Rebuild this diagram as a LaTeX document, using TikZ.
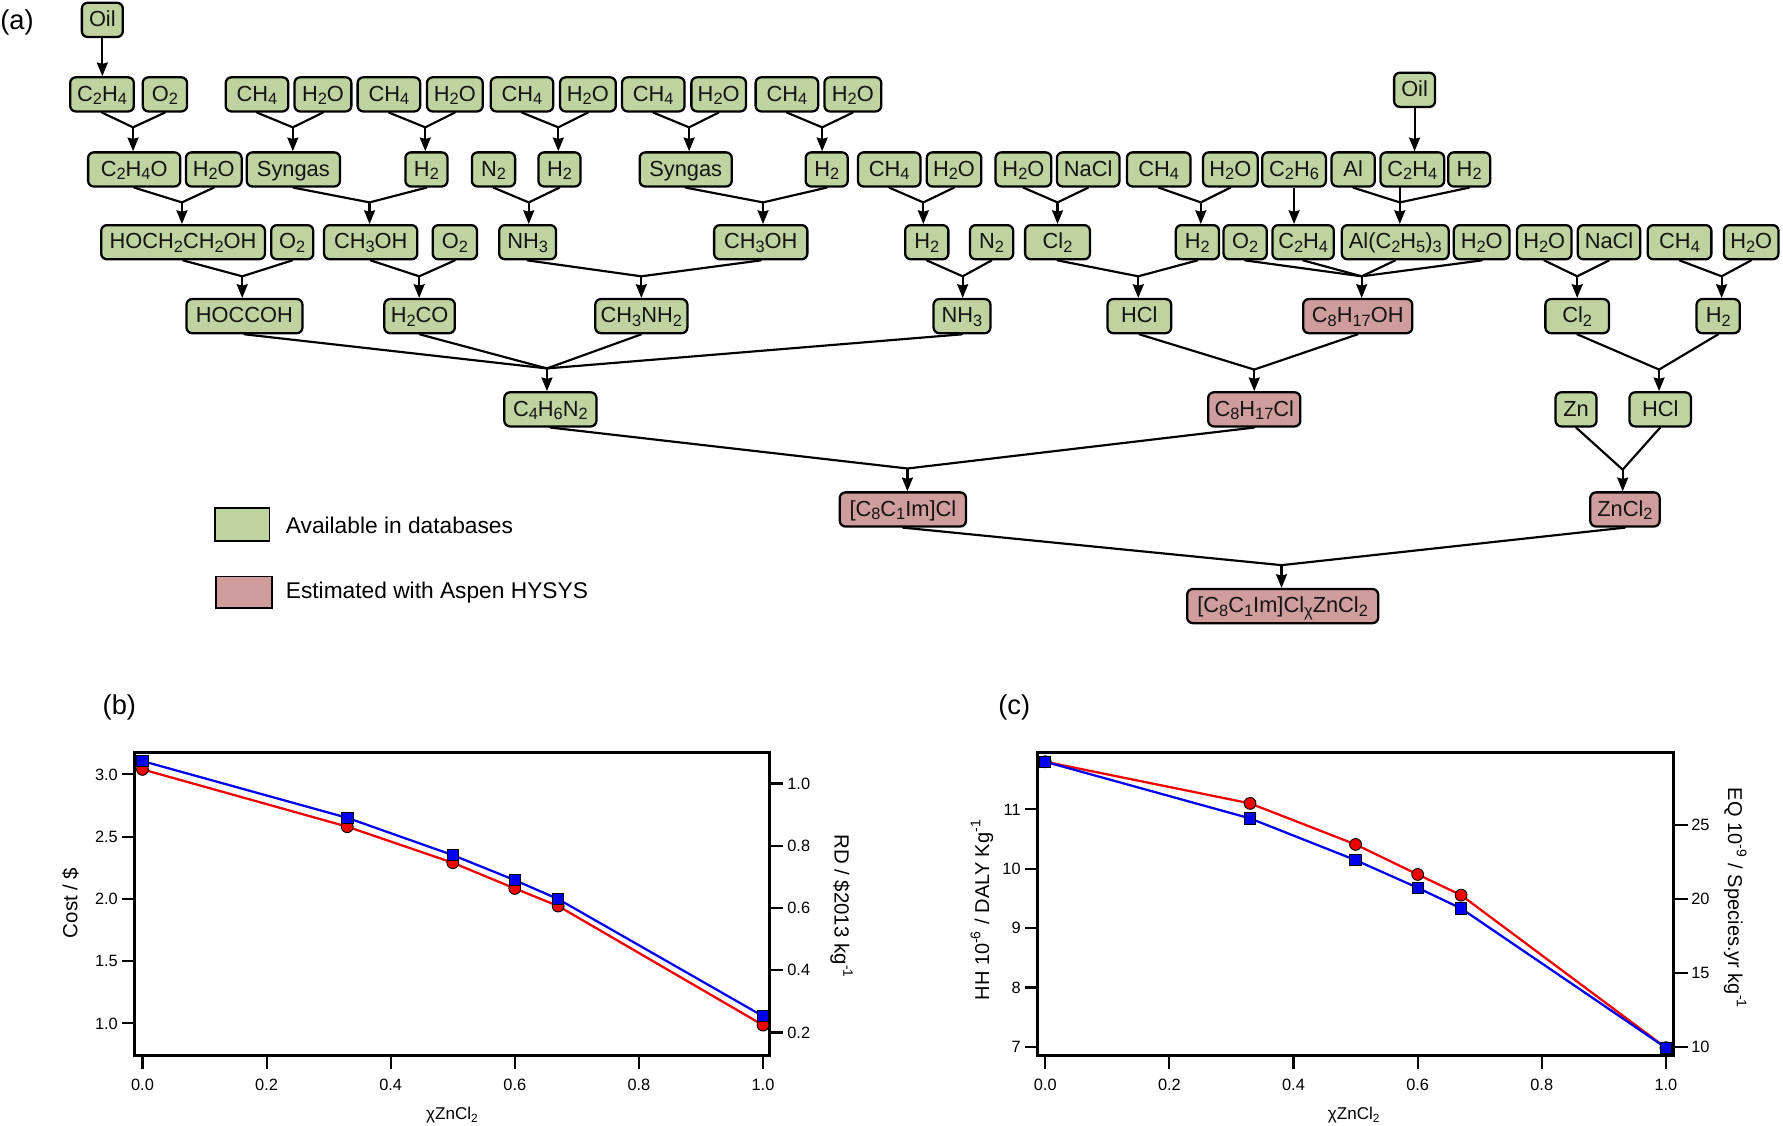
\documentclass[tikz,border=0pt]{standalone}
\usepackage{fontspec}
\setmainfont{Liberation Sans}
\usetikzlibrary{arrows.meta}
\definecolor{gfill}{HTML}{BED3A0}
\definecolor{pfill}{HTML}{CF9D9D}
\definecolor{dred}{HTML}{F00000}
\definecolor{dblue}{HTML}{0000F0}
\newcommand\sbs[1]{\raisebox{-0.32ex}{\fontsize{7.2}{8}\selectfont #1}}
\newcommand\sps[1]{\textsuperscript{#1}}
\begin{document}
\begin{tikzpicture}[x=0.5pt,y=-0.5pt,
  bx/.style={draw=black, line width=1pt, rounded corners=2.5pt, minimum height=15pt, inner sep=0pt,
    text height=6.9pt, text depth=1pt, font=\fontsize{9.6}{11}\selectfont, text=black!92},
  gb/.style={bx, fill=gfill},
  pb/.style={bx, fill=pfill},
  ln/.style={line width=0.95pt, line cap=round},
  ar/.style={line width=0.95pt, -{Stealth[length=6pt,width=4.8pt,inset=0.6pt]}},
  tk/.style={line width=0.9pt},
  tl/.style={font=\fontsize{7.2}{8}\selectfont, inner sep=0pt},
  axl/.style={font=\fontsize{9}{10}\selectfont, inner sep=0pt},
  pl/.style={font=\fontsize{12}{14}\selectfont, inner sep=0pt},
  frm/.style={line width=1.2pt},
]
\useasboundingbox (0,0) rectangle (1568,990);

% ---------- panel (a) ----------
\node[pl] (la) at (15,20) {(a)};

% row 0
\node[gb, minimum width=18pt] (oilA) at (90,17.5) {Oil};
% row 1
\node[gb, minimum width=28pt] (c2h4a) at (89.7,83) {C\sbs2H\sbs4};
\node[gb, minimum width=19.5pt] (o2a) at (145,83) {O\sbs2};
\node[gb, minimum width=27.5pt] (ch4a) at (226,83) {CH\sbs4};
\node[gb, minimum width=25pt] (h2oa) at (284,83) {H\sbs2O};
\node[gb, minimum width=27.5pt] (ch4b) at (342,83) {CH\sbs4};
\node[gb, minimum width=24.5pt] (h2ob) at (400,83) {H\sbs2O};
\node[gb, minimum width=27.5pt] (ch4c) at (459,83) {CH\sbs4};
\node[gb, minimum width=24.5pt] (h2oc) at (517,83) {H\sbs2O};
\node[gb, minimum width=27.5pt] (ch4d) at (574.5,83) {CH\sbs4};
\node[gb, minimum width=24pt] (h2od) at (632,83) {H\sbs2O};
\node[gb, minimum width=27.5pt] (ch4e) at (692,83) {CH\sbs4};
\node[gb, minimum width=25pt] (h2oe) at (750,83) {H\sbs2O};
\node[gb, minimum width=18pt] (oilB) at (1244,79) {Oil};
% row 2
\node[gb, minimum width=40.5pt] (c2h4o) at (118,149) {C\sbs2H\sbs4O};
\node[gb, minimum width=24.5pt] (h2o2a) at (188,149) {H\sbs2O};
\node[gb, minimum width=41pt] (syn1) at (258,149) {Syngas};
\node[gb, minimum width=18.5pt] (h2a) at (375,149) {H\sbs2};
\node[gb, minimum width=19pt] (n2a) at (434,149) {N\sbs2};
\node[gb, minimum width=18.5pt] (h2b) at (492,149) {H\sbs2};
\node[gb, minimum width=40.5pt] (syn2) at (603,149) {Syngas};
\node[gb, minimum width=18.5pt] (h2c) at (727,149) {H\sbs2};
\node[gb, minimum width=27.5pt] (ch4f) at (782,149) {CH\sbs4};
\node[gb, minimum width=24pt] (h2o2b) at (839,149) {H\sbs2O};
\node[gb, minimum width=24.5pt] (h2o2c) at (900,149) {H\sbs2O};
\node[gb, minimum width=27.5pt] (nacla) at (957,149) {NaCl};
\node[gb, minimum width=28pt] (ch4g) at (1019,149) {CH\sbs4};
\node[gb, minimum width=24pt] (h2o2d) at (1082,149) {H\sbs2O};
\node[gb, minimum width=28pt] (c2h6) at (1138,149) {C\sbs2H\sbs6};
\node[gb, minimum width=19pt] (al) at (1190,149) {Al};
\node[gb, minimum width=28pt] (c2h4b) at (1242,149) {C\sbs2H\sbs4};
\node[gb, minimum width=18.5pt] (h2d) at (1292,149) {H\sbs2};
% row 3
\node[gb, minimum width=72pt] (hoch) at (161,213) {HOCH\sbs2CH\sbs2OH};
\node[gb, minimum width=18.5pt] (o2b) at (257,213) {O\sbs2};
\node[gb, minimum width=41pt] (meoh1) at (326,213) {CH\sbs3OH};
\node[gb, minimum width=19.5pt] (o2c) at (400,213) {O\sbs2};
\node[gb, minimum width=25pt] (nh3a) at (464,213) {NH\sbs3};
\node[gb, minimum width=41pt] (meoh2) at (669,213) {CH\sbs3OH};
\node[gb, minimum width=19pt] (h2e) at (815,213) {H\sbs2};
\node[gb, minimum width=19pt] (n2b) at (872,213) {N\sbs2};
\node[gb, minimum width=28.5pt] (cl2a) at (930,213) {Cl\sbs2};
\node[gb, minimum width=19pt] (h2f) at (1053,213) {H\sbs2};
\node[gb, minimum width=19pt] (o2d) at (1095,213) {O\sbs2};
\node[gb, minimum width=27pt] (c2h4c) at (1146,213) {C\sbs2H\sbs4};
\node[gb, minimum width=47pt] (alet) at (1227,213) {Al(C\sbs2H\sbs5)\sbs3};
\node[gb, minimum width=24.5pt] (h2o3a) at (1303,213) {H\sbs2O};
\node[gb, minimum width=24pt] (h2o3b) at (1358,213) {H\sbs2O};
\node[gb, minimum width=27.5pt] (naclb) at (1415,213) {NaCl};
\node[gb, minimum width=28pt] (ch4h) at (1477,213) {CH\sbs4};
\node[gb, minimum width=24pt] (h2o3c) at (1540,213) {H\sbs2O};
% row 4
\node[gb, minimum width=51pt] (hoccoh) at (215,278) {HOCCOH};
\node[gb, minimum width=31pt] (h2co) at (369,278) {H\sbs2CO};
\node[gb, minimum width=40.5pt] (mna) at (564,278) {CH\sbs3NH\sbs2};
\node[gb, minimum width=25pt] (nh3b) at (846,278) {NH\sbs3};
\node[gb, minimum width=28pt] (hcla) at (1002,278) {HCl};
\node[pb, minimum width=48pt] (octoh) at (1194,278) {C\sbs8H\sbs{17}OH};
\node[gb, minimum width=28pt] (cl2b) at (1387,278) {Cl\sbs2};
\node[gb, minimum width=19pt] (h2g) at (1511,278) {H\sbs2};
% row 5
\node[gb, minimum width=40.5pt] (im) at (484,360) {C\sbs4H\sbs6N\sbs2};
\node[pb, minimum width=40.5pt] (octcl) at (1103,360) {C\sbs8H\sbs{17}Cl};
\node[gb, minimum width=18pt] (zn) at (1386,360) {Zn};
\node[gb, minimum width=27pt] (hclb) at (1460,360) {HCl};
% row 6
\node[pb, minimum width=55.5pt] (il) at (794,448) {[C\sbs8C\sbs1Im]Cl};
\node[pb, minimum width=30.5pt] (zncl) at (1429,448) {ZnCl\sbs2};
% row 7
\node[pb, minimum width=84pt] (fin) at (1128,533) {[C\sbs8C\sbs1Im]Cl\sbs{χ}ZnCl\sbs2};

% legend
\node[draw=black, line width=0.8pt, fill=gfill, minimum width=24pt, minimum height=14.5pt, inner sep=0pt] (lg) at (213,461.5) {};
\node[anchor=west, font=\fontsize{10}{12}\selectfont, inner sep=0pt] (lgt) at (251,462) {Available in databases};
\node[draw=black, line width=0.8pt, fill=pfill, minimum width=24.5pt, minimum height=14pt, inner sep=0pt] (lp) at (214.5,521) {};
\node[anchor=west, font=\fontsize{10}{12}\selectfont, inner sep=0pt] (lpt) at (251,521) {Estimated with Aspen HYSYS};

% junctions
\coordinate (j1) at (117,112);
\coordinate (j2) at (257.5,112);
\coordinate (j3) at (374,112);
\coordinate (j4) at (491,112);
\coordinate (j5) at (606,112);
\coordinate (j6) at (723,112);
\coordinate (k1) at (160,178);
\coordinate (k2) at (325,178);
\coordinate (k3) at (465,178);
\coordinate (k4) at (671,178);
\coordinate (k5) at (812,178);
\coordinate (k6) at (930,178);
\coordinate (k7) at (1056,178);
\coordinate (k8) at (1231,178);
\coordinate (m1) at (213,243);
\coordinate (m2) at (368.6,243);
\coordinate (m3) at (564,243);
\coordinate (m4) at (846.6,243);
\coordinate (m5) at (1001,243);
\coordinate (m6) at (1197.5,243);
\coordinate (m7) at (1387,243);
\coordinate (m8) at (1514,243);
\coordinate (n1) at (481,324);
\coordinate (n2) at (1103,325);
\coordinate (n3) at (1459,325);
\coordinate (p1) at (798,412);
\coordinate (p2) at (1427,413);
\coordinate (q1) at (1127,497);

% single arrows
\draw[ar] (oilA.south) -- (oilA.south |- c2h4a.north);
\draw[ar] (oilB.south) -- (oilB.south |- c2h4b.north);
\draw[ar] (c2h6.south) -- (c2h6.south |- c2h4c.north);

% merges
\foreach \j/\ins/\out in {
  j1/{c2h4a,o2a}/c2h4o, j2/{ch4a,h2oa}/syn1, j3/{ch4b,h2ob}/h2a,
  j4/{ch4c,h2oc}/h2b, j5/{ch4d,h2od}/syn2, j6/{ch4e,h2oe}/h2c,
  k1/{c2h4o,h2o2a}/hoch, k2/{syn1,h2a}/meoh1, k3/{n2a,h2b}/nh3a,
  k4/{syn2,h2c}/meoh2, k5/{ch4f,h2o2b}/h2e, k6/{h2o2c,nacla}/cl2a,
  k7/{ch4g,h2o2d}/h2f, k8/{al,h2d}/alet,
  m1/{hoch,o2b}/hoccoh, m2/{meoh1,o2c}/h2co, m3/{nh3a,meoh2}/mna,
  m4/{h2e,n2b}/nh3b, m5/{cl2a,h2f}/hcla, m6/{o2d,c2h4c,alet,h2o3a}/octoh,
  m7/{h2o3b,naclb}/cl2b, m8/{ch4h,h2o3c}/h2g,
  n1/{hoccoh,h2co,mna,nh3b}/im, n2/{hcla,octoh}/octcl, n3/{cl2b,h2g}/hclb,
  p1/{im,octcl}/il, p2/{zn,hclb}/zncl, q1/{il,zncl}/fin}{
  \foreach \s in \ins { \draw[ln] (\s.south) -- (\j); }
  \draw[ar] (\j) -- (\j |- \out.north);
}
\draw[ln] (c2h4b.south -| k8) -- (k8);

% ---------- panel (b) ----------
\node[pl] (lb) at (105,622) {(b)};
\draw[frm] (118.4,662) rectangle (677,928.5);
\foreach \v/\y [count=\i] in {3.0/681,2.5/735.75,2.0/790.5,1.5/845.25,1.0/900}{
  \draw[tk] (118.4,\y) -- (107,\y);
  \node[tl, anchor=east] (bl\i) at (104,\y) {\v};
}
\foreach \v/\y [count=\i] in {1.0/689,0.8/743.8,0.6/798.5,0.4/853.3,0.2/908}{
  \draw[tk] (677,\y) -- (689,\y);
  \node[tl, anchor=west] (br\i) at (692,\y) {\v};
}
\foreach \v [count=\i from 0] in {0.0,0.2,0.4,0.6,0.8,1.0}{
  \draw[tk] (125.3+109.14*\i,928.5) -- (125.3+109.14*\i,940);
  \node[tl] (bx\i) at (125.3+109.14*\i,954) {\v};
}
\node[axl, font=\fontsize{7.5}{9}\selectfont] (bxl) at (398,981) {χZnCl\textsubscript{2}};
\node[axl, rotate=90] (byl) at (62,794) {Cost / \$};
\node[axl, rotate=-90] (byr) at (740,797) {RD / \$2013 kg\sps{-1}};
\draw[dred, line width=1pt] (125.3,676.6) -- (305.4,727) -- (398.2,758.7) -- (452.7,781.3) -- (490.9,796.8) -- (671,901.5);
\foreach \x/\y in {125.3/676.6,305.4/727,398.2/758.7,452.7/781.3,490.9/796.8,671/901.5}
  \filldraw[fill=dred, draw=black, line width=0.4pt] (\x,\y) circle (2.6pt);
\draw[dblue, line width=1pt] (125.3,669.3) -- (305.4,719.2) -- (398.2,752) -- (452.7,774) -- (490.9,790.7) -- (671,893.6);
\foreach \x/\y in {125.3/669.3,305.4/719.2,398.2/752,452.7/774,490.9/790.7,671/893.6}
  \filldraw[fill=dblue, draw=black, line width=0.4pt] (\x,\y) ++(-2.5pt,-2.5pt) rectangle ++(5pt,5pt);

% ---------- panel (c) ----------
\node[pl] (lc) at (892,622) {(c)};
\draw[frm] (912.6,662) rectangle (1472,928.5);
\foreach \v/\y [count=\i] in {11/711.8,10/764,9/816.2,8/868.4,7/920.6}{
  \draw[tk] (912.6,\y) -- (901,\y);
  \node[tl, anchor=east] (cl\i) at (898,\y) {\v};
}
\foreach \v/\y [count=\i] in {25/725.6,20/790.6,15/855.5,10/920.5}{
  \draw[tk] (1472,\y) -- (1484,\y);
  \node[tl, anchor=west] (cr\i) at (1487,\y) {\v};
}
\foreach \v [count=\i from 0] in {0.0,0.2,0.4,0.6,0.8,1.0}{
  \draw[tk] (919.2+109.16*\i,928.5) -- (919.2+109.16*\i,940);
  \node[tl] (cx\i) at (919.2+109.16*\i,954) {\v};
}
\node[axl, font=\fontsize{7.5}{9}\selectfont] (cxl) at (1191,981) {χZnCl\textsubscript{2}};
\node[axl, rotate=90, font=\fontsize{8.8}{10}\selectfont] (cyl) at (863.5,800) {HH 10\sps{-6} / DALY Kg\sps{-1}};
\node[axl, rotate=-90, font=\fontsize{8.8}{10}\selectfont] (cyr) at (1526,790) {EQ 10\sps{-9} / Species.yr kg\sps{-1}};
\draw[dred, line width=1pt] (919.2,669.9) -- (1099.3,706.5) -- (1192.1,742.6) -- (1246.7,769) -- (1284.9,787.2) -- (1465,921.4);
\foreach \x/\y in {919.2/669.9,1099.3/706.5,1192.1/742.6,1246.7/769,1284.9/787.2,1465/921.4}
  \filldraw[fill=dred, draw=black, line width=0.4pt] (\x,\y) circle (2.6pt);
\draw[dblue, line width=1pt] (919.2,669.9) -- (1099.3,719.7) -- (1192.1,756.4) -- (1246.7,780.7) -- (1284.9,798.9) -- (1465,921.4);
\foreach \x/\y in {919.2/669.9,1099.3/719.7,1192.1/756.4,1246.7/780.7,1284.9/798.9,1465/921.4}
  \filldraw[fill=dblue, draw=black, line width=0.4pt] (\x,\y) ++(-2.5pt,-2.5pt) rectangle ++(5pt,5pt);
\end{tikzpicture}
\end{document}
